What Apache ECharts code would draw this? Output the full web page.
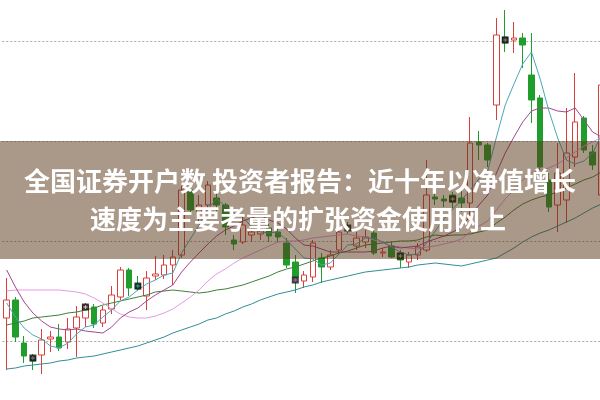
<!DOCTYPE html>
<html><head><meta charset="utf-8">
<script src="https://cdn.jsdelivr.net/npm/echarts@6/dist/echarts.min.js"></script>
<style>html,body{margin:0;padding:0;background:#fff;overflow:hidden;width:600px;height:400px;position:relative}#c{position:absolute;left:0;top:-59px;width:606px;height:500px}</style>
</head><body><div id="c"></div>
<script>
// Price values (chart units), one per trading day
const opens  = [123,141,98,85,86,102,104,99,113,123,134,118,132,144,171,157,145,165,166,176,186,251,229,236,243,236,201,199,206,207,213,209,198,179,160,164,183,174,191,215,195,199,208,188,195,188,179,186,191,244,242,246,243,238,299,296,336,404,401,403,366,343,261,236,241,284,323,289,246];
const closes = [141,104,85,80,101,104,93,112,124,136,117,131,146,171,153,152,163,167,176,184,251,231,236,256,236,214,197,216,209,211,205,204,176,164,166,198,174,186,209,211,203,204,188,189,184,181,186,194,246,242,240,239,238,298,296,281,406,398,403,396,341,274,234,268,288,319,291,276,356];
const lows   = [71,99,78,71,67,89,90,92,84,114,113,114,127,141,145,150,131,161,162,156,183,226,219,231,226,206,191,197,199,201,199,199,173,148,153,159,158,171,188,207,191,193,186,184,183,173,173,181,189,236,234,233,229,218,281,274,321,389,388,373,318,271,229,209,218,274,288,271,241];
const highs  = [163,144,105,87,112,110,117,123,135,138,137,135,155,174,173,165,170,185,186,191,255,258,246,260,248,238,206,224,215,216,217,213,203,186,170,201,188,191,216,219,209,211,211,193,199,191,189,198,281,248,246,249,253,324,310,298,423,431,419,408,408,346,268,298,333,368,325,296,361];
// Moving averages
const ma5  = [138,124,113,106,102,95,93,98,107,114,116,124,131,140,144,151,157,161,166,168,188,202,216,232,242,235,228,224,214,209,208,209,201,192,183,182,176,178,187,196,197,203,203,199,194,189,186,187,198,210,222,232,241,251,262,270,304,336,357,377,389,362,330,303,281,277,280,288,306];
const ma10 = [171,154,139,128,120,114,112,111,112,110,109,108,114,123,129,133,140,146,151,156,169,179,188,197,205,211,215,220,223,226,221,218,212,203,196,195,192,189,189,189,189,189,190,193,195,193,194,195,199,202,205,209,214,225,236,246,268,288,304,319,330,333,333,330,329,333,321,309,304];
const ma20 = [150,151,151,151,151,151,151,150,149,147,143,138,132,127,124,123,123,125,128,132,138,144,151,160,167,172,178,183,187,191,195,199,200,200,201,203,204,205,206,207,205,204,201,198,195,194,193,192,194,195,197,199,202,209,215,220,231,242,251,261,268,271,273,277,283,289,295,299,304];
const ma30 = [116,118,120,123,124,125,126,128,129,131,133,136,138,140,142,144,146,149,150,151,150,149,148,149,151,152,154,156,159,162,165,169,172,174,177,180,183,185,188,190,193,196,197,198,199,200,200,201,204,206,205,206,206,207,209,211,218,224,231,237,241,244,246,249,253,257,261,264,269];
const ma60 = [72,73,75,76,77,78,80,81,83,84,85,87,89,91,93,95,98,101,104,108,111,114,117,121,123,127,130,134,137,141,144,147,149,151,154,156,159,161,163,165,167,169,170,171,172,173,174,176,177,178,177,176,175,177,179,181,183,188,193,199,204,208,211,215,219,223,228,233,237];
// Special day markers: [day index, value, accent colour]
const markerDays   = [3,9,15,33,39,45,51,57];
const markerValues = [83,134,155,161,213,185,242,401];
const markerAccent = ['#e070e0','#ffffff','#40c8d8','#e070e0','#ffffff','#ffffff','#ffffff','#e070e0'];
const titleLine1 = '全国证券开户数 投资者报告：近十年以净值增长';
const titleLine2 = '速度为主要考量的扩张资金使用网上';

const categories = closes.map((_, i) => 'D' + (i + 1));
const candleData = opens.map((o, i) => [o, closes[i], lows[i], highs[i]]);
const markerData = markerDays.map((d, i) => ({value: [d, markerValues[i]]}));
const accentData = markerDays.map((d, i) => ({value: [d, markerValues[i]], itemStyle: {color: markerAccent[i]}}));

const OFF = 59; // page-to-chart vertical offset (chart div starts 59px above page)
const chart = echarts.init(document.getElementById('c'), null, {renderer: 'canvas'});
function maSeries(name, data, color) {
  return {name, type: 'line', data, symbol: 'none', smooth: false, z: 3,
    lineStyle: {width: 1, color}, itemStyle: {color}, silent: true, animation: false};
}
chart.setOption({
  animation: false,
  backgroundColor: '#ffffff',
  grid: {left: 2.3, right: 0.2, top: 0, bottom: 0, containLabel: false},
  xAxis: {type: 'category', data: categories, boundaryGap: true,
    axisLine: {show: false}, axisTick: {show: false}, axisLabel: {show: false}, splitLine: {show: false}},
  yAxis: {type: 'value', min: 0, max: 500, interval: 100,
    axisLine: {show: false}, axisTick: {show: false}, axisLabel: {show: false},
    splitLine: {show: true, lineStyle: {color: '#a8a8a8', type: [2, 2], width: 1}}},
  series: [
    {type: 'candlestick', data: candleData, barWidth: 6, z: 2,
      itemStyle: {color: '#ffffff', color0: '#1f9e2c', borderColor: '#d9403c', borderColor0: '#1f9e2c', borderWidth: 1}},
    maSeries('MA60', ma60, '#2f8f98'),
    maSeries('MA30', ma30, '#3f7f3a'),
    maSeries('MA20', ma20, '#e69ae6'),
    maSeries('MA10', ma10, '#a3478f'),
    maSeries('MA5', ma5, '#4aa8ba'),
    {type: 'scatter', data: markerData, symbol: 'rect', symbolSize: [7, 7], z: 4,
      itemStyle: {color: '#111111'}, silent: true},
    {type: 'scatter', data: accentData, z: 5, silent: true, symbolSize: 4,
      symbol: 'path://M4,0 L6,0 L6,4 L10,4 L10,6 L6,6 L6,10 L4,10 L4,6 L0,6 L0,4 L4,4 Z'}
  ],
  graphic: [
    {type: 'rect', z: 100, shape: {x: 0, y: 141 + OFF, width: 606, height: 118},
      style: {fill: 'rgba(85,50,20,0.5)'}},
    {type: 'text', z: 101, x: 300, y: 181 + OFF,
      style: {text: titleLine1, fill: '#ffffff', font: 'bold 26px "Noto Sans CJK SC"', align: 'center', verticalAlign: 'middle', textAlign: 'center', textVerticalAlign: 'middle'}},
    {type: 'text', z: 101, x: 298, y: 219 + OFF,
      style: {text: titleLine2, fill: '#ffffff', font: 'bold 26px "Noto Sans CJK SC"', align: 'center', verticalAlign: 'middle', textAlign: 'center', textVerticalAlign: 'middle'}}
  ]
});
</script></body></html>
